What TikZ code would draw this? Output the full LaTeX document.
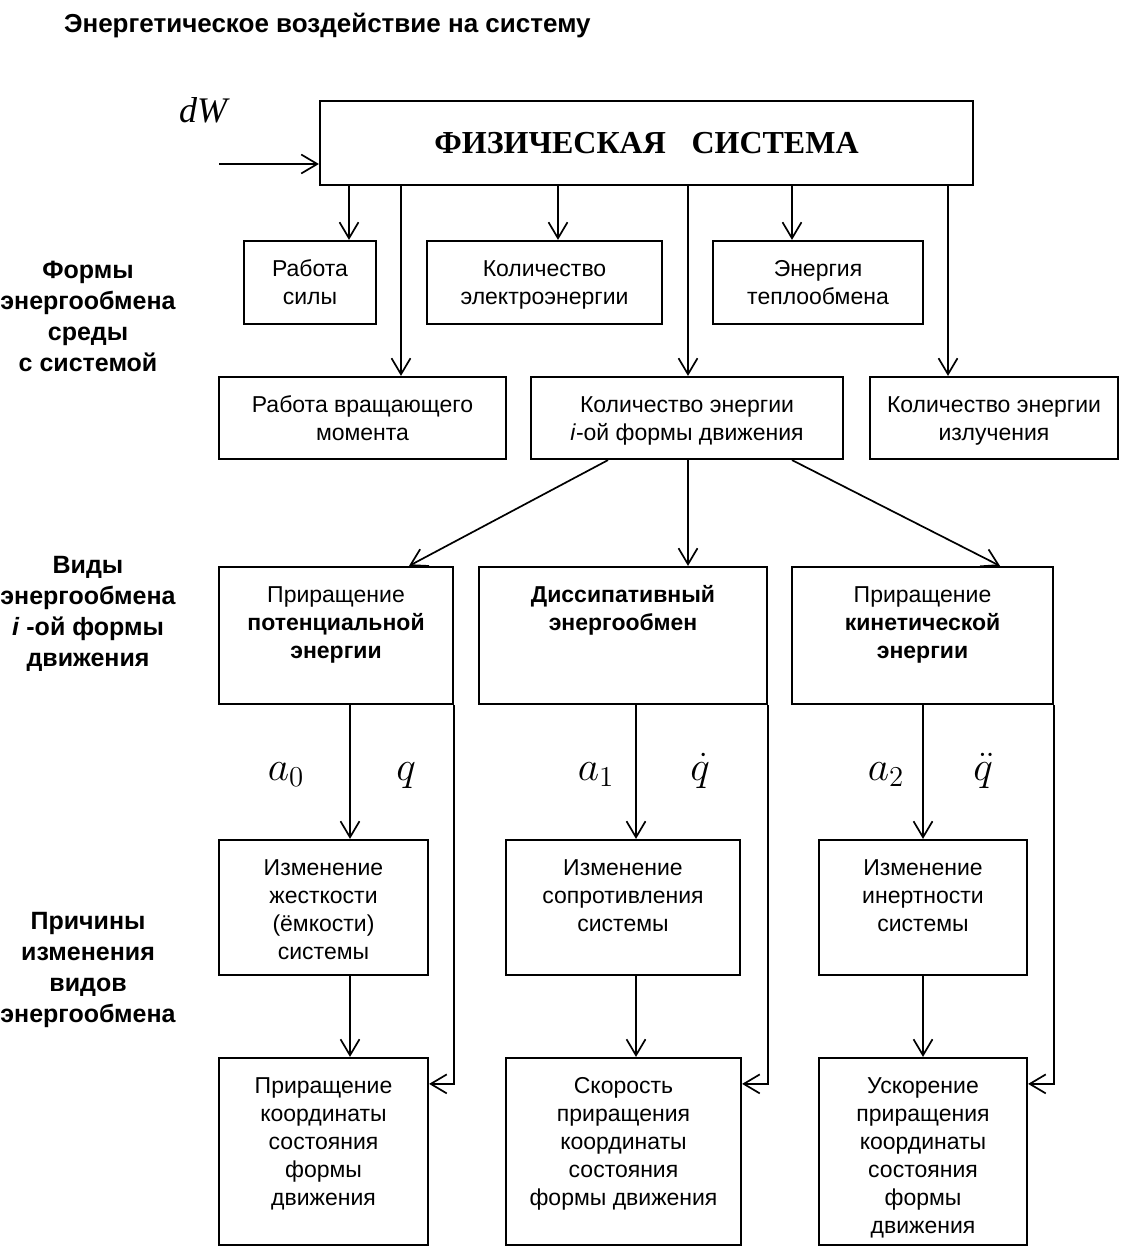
\documentclass[tikz,border=0pt]{standalone}
\usepackage{fontspec}
\setmainfont{Liberation Sans}
\newfontfamily\tms{Liberation Serif}
\usetikzlibrary{arrows.meta,positioning,calc}

% text of a box, set from its top edge
\newcommand{\boxtxt}[3]{\parbox[c][#2][t]{#1}{\centering\rule{0pt}{17.5pt}#3}}

\begin{document}
\begin{tikzpicture}[
    x=0.5pt, y=-0.5pt,
    box/.style={draw, line width=1.1pt, inner sep=0pt, font=\fontsize{11.5pt}{14pt}\selectfont},
    arr/.style={line width=0.85pt, -{Straight Barb[length=8pt,width=9.5pt]}},
    side/.style={font=\bfseries\fontsize{12.5pt}{15.5pt}\selectfont, align=center},
    sym/.style={font=\fontsize{20.74pt}{21pt}\selectfont, anchor=base},
]
\useasboundingbox (0,0) rectangle (1122,1247);

\node[anchor=base west, font=\bfseries\fontsize{13pt}{15pt}\selectfont] (title) at (57,33)
    {Энергетическое воздействие на систему};

% system
\node[box, minimum width=326.5pt, minimum height=42pt,
      font=\tms\bfseries\fontsize{16pt}{18pt}\selectfont] (phys) at (646.5,143)
    {ФИЗИЧЕСКАЯ\hspace{0.8em}СИСТЕМА};
\node[font=\tms\itshape\fontsize{18pt}{18pt}\selectfont] (dw) at (203,110) {dW};
\coordinate (dwin) at (219,164);
\draw[arr] (dwin) -- (phys.west |- dwin);

% forms of exchange with the medium
\node[side] (forms) at (88,316) {Формы\\энергообмена\\среды\\с системой};
\node[box] (force) at (310,282.5) {\boxtxt{66pt}{41.5pt}{Работа\\силы}};
\node[box] (elec) at (544.5,282.5) {\boxtxt{117.5pt}{41.5pt}{Количество\\электроэнергии}};
\node[box] (heat) at (818,282.5) {\boxtxt{105pt}{41.5pt}{Энергия\\теплообмена}};
\node[box] (torque) at (362.5,418) {\boxtxt{143.5pt}{41pt}{Работа вращающего\\момента}};
\node[box] (ienergy) at (687,418) {\boxtxt{156pt}{41pt}{Количество энергии\\\textit{i}-ой формы движения}};
\node[box] (radiation) at (994,418) {\boxtxt{124pt}{41pt}{Количество энергии\\излучения}};

\coordinate (xf) at (349,0);
\coordinate (xt) at (401,0);
\coordinate (xe) at (558,0);
\coordinate (xi) at (688,0);
\coordinate (xh) at (792,0);
\coordinate (xr) at (948,0);
\draw[arr] (phys.south -| xf) -- (force.north -| xf);
\draw[arr] (phys.south -| xt) -- (torque.north -| xt);
\draw[arr] (phys.south -| xe) -- (elec.north -| xe);
\draw[arr] (phys.south -| xi) -- (ienergy.north -| xi);
\draw[arr] (phys.south -| xh) -- (heat.north -| xh);
\draw[arr] (phys.south -| xr) -- (radiation.north -| xr);

% kinds of exchange
\node[side] (kinds) at (88,614) {Виды\\энергообмена\\\textit{i} -ой формы\\движения};
\node[box] (pot) at (336,635.5) {\boxtxt{117pt}{68.5pt}{Приращение\\\textbf{потенциальной}\\\textbf{энергии}}};
\node[box] (dissip) at (623,635.5) {\boxtxt{144pt}{68.5pt}{\textbf{Диссипативный}\\\textbf{энергообмен}}};
\node[box] (kin) at (922.5,635.5) {\boxtxt{130.5pt}{68.5pt}{Приращение\\\textbf{кинетической}\\\textbf{энергии}}};

\draw[arr] ([xshift=-39.5pt]ienergy.south) -- ([xshift=36.5pt]pot.north);
\draw[arr] (ienergy.south -| xi) -- (dissip.north -| xi);
\draw[arr] ([xshift=52.5pt]ienergy.south) -- ([xshift=38.75pt]kin.north);

% causes
\node[side] (causes) at (88,970) {Причины\\изменения\\видов\\энергообмена};
\node[box] (stiff) at (323.5,907.5) {\boxtxt{104.5pt}{67.5pt}{Изменение\\жесткости\\(ёмкости)\\системы}};
\node[box] (resist) at (623,907.5) {\boxtxt{117pt}{67.5pt}{Изменение\\сопротивления\\системы}};
\node[box] (inert) at (923,907.5) {\boxtxt{104pt}{67.5pt}{Изменение\\инертности\\системы}};

\coordinate (xl) at (350,0);
\coordinate (xm) at (636,0);
\coordinate (xn) at (923,0);
\draw[arr] (pot.south -| xl) -- (stiff.north -| xl);
\draw[arr] (dissip.south -| xm) -- (resist.north -| xm);
\draw[arr] (kin.south -| xn) -- (inert.north -| xn);

\node[sym] (a0) at (286,780) {$a_0$};
\node[sym] (q0) at (406,780) {$q$};
\node[sym] (a1) at (596,780) {$a_1$};
\node[sym] (q1) at (700,780) {$\dot q$};
\node[sym] (a2) at (886,780) {$a_2$};
\node[sym] (q2) at (983,780) {$\ddot q$};

% state of the form of motion
\node[box] (coord) at (323.5,1151.5) {\boxtxt{104.5pt}{93.5pt}{Приращение\\координаты\\состояния\\формы\\движения}};
\node[box] (speed) at (623.5,1151.5) {\boxtxt{117.5pt}{93.5pt}{Скорость\\приращения\\координаты\\состояния\\формы движения}};
\node[box] (accel) at (923,1151.5) {\boxtxt{104pt}{93.5pt}{Ускорение\\приращения\\координаты\\состояния\\формы\\движения}};

\draw[arr] (stiff.south -| xl) -- (coord.north -| xl);
\draw[arr] (resist.south -| xm) -- (speed.north -| xm);
\draw[arr] (inert.south -| xn) -- (accel.north -| xn);

\draw[arr] (pot.south east) |- ([yshift=-13.5pt]coord.north east);
\draw[arr] (dissip.south east) |- ([yshift=-13.5pt]speed.north east);
\draw[arr] (kin.south east) |- ([yshift=-13.5pt]accel.north east);
\end{tikzpicture}
\end{document}
